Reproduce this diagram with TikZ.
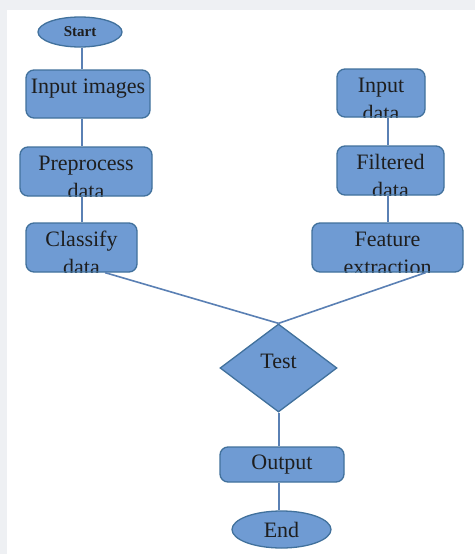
\documentclass[tikz,border=0pt]{standalone}
\usepackage{fontspec}
\setmainfont{Liberation Serif}
\usetikzlibrary{shapes.geometric,calc}
\definecolor{fillb}{HTML}{6F9BD3}
\definecolor{edgeb}{HTML}{41719C}
\definecolor{lineb}{HTML}{5A80B4}
\definecolor{txt}{HTML}{1E1E1E}
\definecolor{bgc}{HTML}{EEF0F3}
\begin{document}
\begin{tikzpicture}[x=1pt,y=-1pt,
  shapebase/.style={fill=fillb,draw=edgeb,line width=1.3pt,text=txt,
    font=\fontsize{22}{28}\selectfont,inner sep=0pt},
  rbox/.style={shapebase,rectangle,rounded corners=8pt},
  intext/.style={anchor=base,text=txt,fill=none,draw=none,rectangle,
    rounded corners=0pt,inner sep=0pt,font=\fontsize{22}{28}\selectfont},
  twoline/.style 2 args={path picture={
    \node[intext] at ($(path picture bounding box.north)+(0,23.5)$) {#1};
    \node[intext] at ($(path picture bounding box.north)+(0,51)$) {#2};}},
  conn/.style={draw=lineb,line width=1.6pt}]
\fill[bgc] (0,0) rectangle (475,554);
\fill[white] (7,10) rectangle (475,554);
\useasboundingbox (0,0) rectangle (475,554);

\coordinate (lx) at (82,0);
\coordinate (rx) at (388,0);
\coordinate (mx) at (279,0);

\node[shapebase,ellipse,minimum width=84pt,minimum height=30pt,
  font=\bfseries\fontsize{15}{17}\selectfont] (start) at (80,32) {Start};
\node[rbox,minimum width=124pt,minimum height=48pt,twoline={Input images}{}] (inimg) at (88,94) {};
\node[rbox,minimum width=132pt,minimum height=49pt,twoline={Preprocess}{data}] (pre) at (86,171.5) {};
\node[rbox,minimum width=111pt,minimum height=49pt,twoline={Classify}{data}] (cls) at (81.5,247.5) {};

\node[rbox,minimum width=88pt,minimum height=48pt,twoline={Input}{data}] (indata) at (381,93) {};
\node[rbox,minimum width=107pt,minimum height=49pt,twoline={Filtered}{data}] (filt) at (390.5,170.5) {};
\node[rbox,minimum width=151pt,minimum height=49pt,twoline={Feature}{extraction}] (feat) at (387.5,247.5) {};

\node[shapebase,diamond,minimum width=117pt,minimum height=88pt,
  path picture={\node[intext] at (path picture bounding box.center) {Test};}] (test) at (278.5,368) {};
\node[rbox,minimum width=124pt,minimum height=35pt] (out) at (282,464.5) {Output};
\node[shapebase,ellipse,minimum width=99pt,minimum height=37pt] (end) at (281.5,529.5) {End};

\draw[conn] (start.south -| lx) -- (inimg.north -| lx);
\draw[conn] (inimg.south -| lx) -- (pre.north -| lx);
\draw[conn] (pre.south -| lx) -- (cls.north -| lx);
\draw[conn] (indata.south -| rx) -- (filt.north -| rx);
\draw[conn] (filt.south -| rx) -- (feat.north -| rx);
\draw[conn] ($(cls.south west)!0.71!(cls.south east)$) -- (test.north);
\draw[conn] ($(feat.south west)!0.75!(feat.south east)$) -- (test.north);
\draw[conn] (test.south -| mx) -- (out.north -| mx);
\draw[conn] (out.south -| mx) -- (end.north -| mx);
\end{tikzpicture}
\end{document}
